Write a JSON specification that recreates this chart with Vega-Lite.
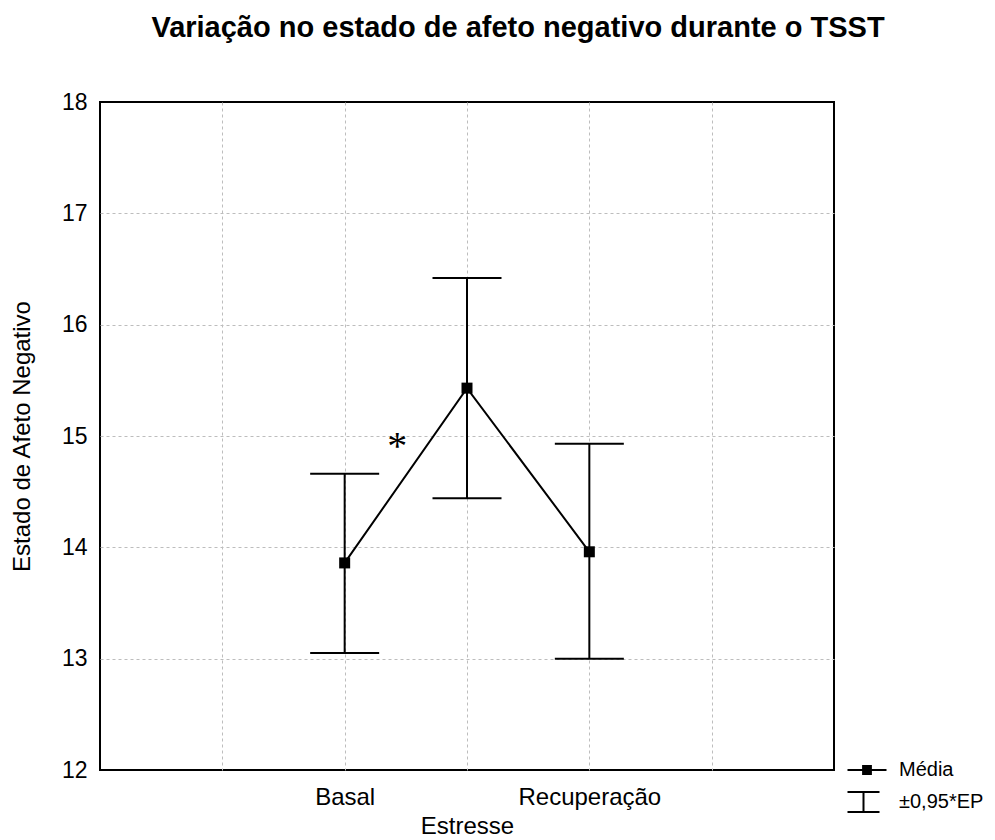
{
  "$schema": "https://vega.github.io/schema/vega-lite/v6.json",
  "autosize": {"type": "none"},
  "padding": {"left": 100, "top": 102, "right": 161, "bottom": 70},
  "width": 734,
  "height": 668,
  "background": "white",
  "title": {
    "text": "Variação no estado de afeto negativo durante o TSST",
    "font": "Liberation Sans",
    "fontSize": 29,
    "fontWeight": "bold",
    "color": "black",
    "anchor": "middle",
    "dx": 51,
    "offset": 48
  },
  "config": {
    "view": {"stroke": "black", "strokeWidth": 2},
    "axis": {
      "labelFont": "Liberation Sans",
      "labelColor": "black",
      "titleFont": "Liberation Sans",
      "titleColor": "black",
      "titleFontWeight": "normal"
    }
  },
  "data": {
    "values": [
      {"fase": "Basal", "ordem": 2, "media": 13.86, "ep_inf": 13.05, "ep_sup": 14.66},
      {"fase": "Estresse", "ordem": 3, "media": 15.43, "ep_inf": 14.44, "ep_sup": 16.42},
      {"fase": "Recuperação", "ordem": 4, "media": 13.96, "ep_inf": 13.0, "ep_sup": 14.93}
    ]
  },
  "encoding": {
    "x": {
      "field": "ordem",
      "type": "quantitative",
      "scale": {"domain": [0, 6], "nice": false, "zero": false},
      "axis": {
        "title": null,
        "values": [1, 2, 3, 4, 5],
        "labelExpr": "datum.value == 2 ? 'Basal' : datum.value == 3 ? ['', 'Estresse'] : datum.value == 4 ? 'Recuperação' : ''",
        "labelFontSize": 24,
        "labelLineHeight": 29,
        "labelBaseline": "top",
        "labelPadding": 15,
        "labelOverlap": false,
        "labelFlush": false,
        "domain": false,
        "ticks": false,
        "tickSize": 0,
        "grid": true,
        "gridColor": "#bdbdbd",
        "gridDash": [3, 3],
        "gridWidth": 1
      }
    }
  },
  "layer": [
    {
      "mark": {"type": "rule", "color": "black", "strokeWidth": 2},
      "encoding": {
        "y": {
          "field": "ep_inf",
          "type": "quantitative",
          "scale": {"domain": [12, 18], "nice": false, "zero": false},
          "axis": {
            "title": "Estado de Afeto Negativo",
            "titleFontSize": 24,
            "titlePadding": 27,
            "values": [12, 13, 14, 15, 16, 17, 18],
            "format": "d",
            "labelFontSize": 23,
            "labelPadding": 13,
            "domain": false,
            "ticks": false,
            "tickSize": 0,
            "grid": true,
            "gridColor": "#bdbdbd",
            "gridDash": [3, 3],
            "gridWidth": 1,
            "gridOpacity": {"condition": {"test": "datum.value == 12 || datum.value == 18", "value": 0}, "value": 1}
          }
        },
        "y2": {"field": "ep_sup"}
      }
    },
    {
      "mark": {"type": "tick", "orient": "horizontal", "color": "black", "size": 69, "thickness": 2, "opacity": 1},
      "encoding": {"y": {"field": "ep_inf", "type": "quantitative"}}
    },
    {
      "mark": {"type": "tick", "orient": "horizontal", "color": "black", "size": 69, "thickness": 2, "opacity": 1},
      "encoding": {"y": {"field": "ep_sup", "type": "quantitative"}}
    },
    {
      "mark": {"type": "line", "color": "black", "strokeWidth": 2},
      "encoding": {"y": {"field": "media", "type": "quantitative"}}
    },
    {
      "mark": {"type": "square", "filled": true, "size": 121, "opacity": 1},
      "encoding": {
        "y": {"field": "media", "type": "quantitative"},
        "color": {
          "datum": "Média",
          "type": "nominal",
          "scale": {"domain": ["Média", "±0,95*EP"], "range": ["black", "black"]},
          "legend": {
            "title": null,
            "orient": "none",
            "legendX": 756,
            "legendY": 657,
            "symbolSize": 400,
            "symbolType": {"expr": "datum.index === 0 ? 'M-1.95,0H1.95M-0.39,-0.39H0.39V0.39H-0.39Z' : 'M-1.95,-1H1.25M-0.35,-1V1M-1.95,1H1.25'"},
            "symbolStrokeColor": "black",
            "symbolStrokeWidth": 2,
            "symbolFillColor": "black",
            "symbolOpacity": 1,
            "labelFont": "Liberation Sans",
            "labelFontSize": 20,
            "labelColor": "black",
            "labelOffset": 21,
            "rowPadding": 8
          }
        }
      }
    },
    {
      "data": {"values": [{"ordem": 2.43, "valor": 15.0, "marca": "*"}]},
      "mark": {"type": "text", "font": "Liberation Serif", "fontSize": 40, "baseline": "middle", "align": "center", "dy": 11, "color": "black"},
      "encoding": {
        "y": {"field": "valor", "type": "quantitative"},
        "text": {"field": "marca"}
      }
    }
  ]
}
